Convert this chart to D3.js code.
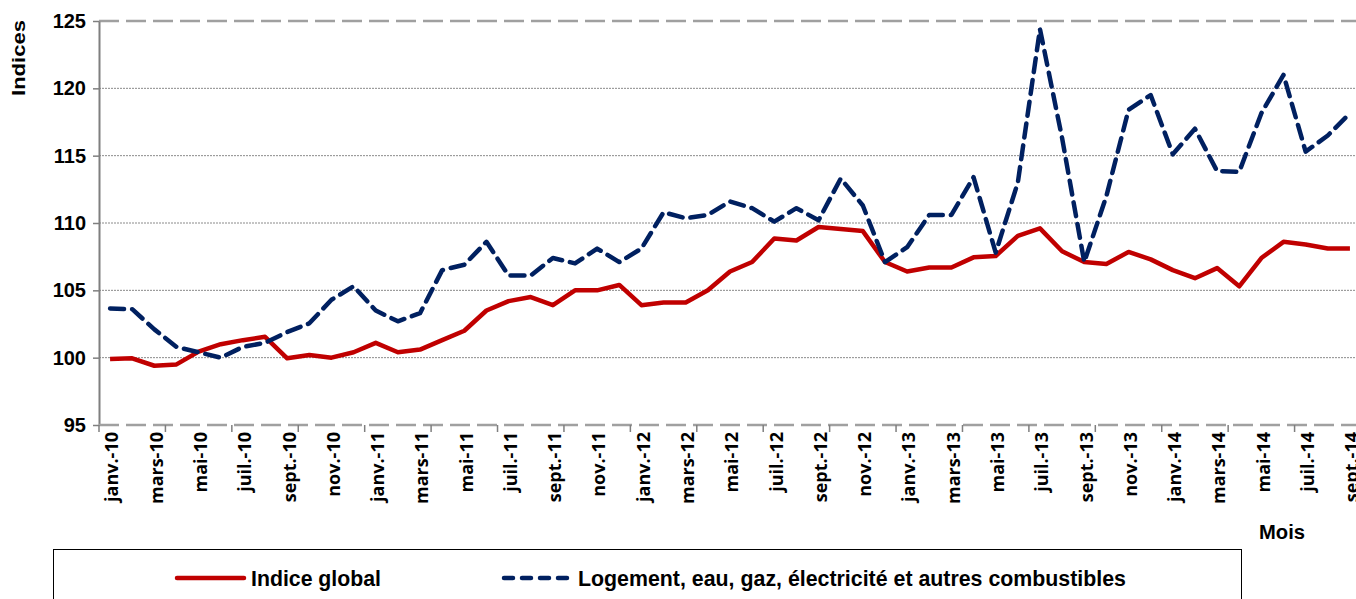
<!DOCTYPE html>
<html>
<head>
<meta charset="utf-8">
<script src="https://cdn.jsdelivr.net/npm/d3@7"></script>
<style>
  body { margin: 0; background: #fff; }
  svg { display: block; }
  .tick-y { font-family: "Liberation Sans", Arial, sans-serif; font-weight: bold; font-size: 20px; }
  .tick-x { font-family: "Open Sans", sans-serif; font-weight: bold; font-size: 18px; }
  .ttl { font-family: "Liberation Sans", Arial, sans-serif; font-weight: bold; }
</style>
</head>
<body>
<svg id="chart" width="1356" height="599"></svg>
<script>
// month names used for the category axis
var monthNames = ["janv.", "févr.", "mars", "avr.", "mai", "juin", "juil.", "août", "sept.", "oct.", "nov.", "déc."];
var months = [];
for (var yr = 10; yr <= 14; yr++) {
    monthNames.forEach(function (m, k) {
        if (yr == 14 && k > 8) return;
        months.push(m + "-" + yr);
    });
}

var yTicks = [95, 100, 105, 110, 115, 120, 125];

// Indice global
var indiceGlobal = [99.9, 99.95, 99.4, 99.5, 100.45, 101.0, 101.3, 101.55, 99.95, 100.2, 100.0,
    100.4, 101.1, 100.4, 100.6, 101.3, 102.0, 103.5, 104.2, 104.5, 103.9,
    105.0, 105.0, 105.4, 103.9, 104.1, 104.1, 105.0, 106.4, 107.1, 108.85,
    108.7, 109.7, 109.55, 109.4, 107.1, 106.4, 106.7, 106.7, 107.45, 107.55,
    109.05, 109.6, 107.9, 107.1, 106.95, 107.85, 107.3, 106.5, 105.9, 106.65,
    105.3, 107.4, 108.6, 108.4, 108.1, 108.1];

// Logement, eau, gaz, electricite et autres combustibles
var logement = [103.65, 103.6, 102.1, 100.8, 100.4, 100.0, 100.8, 101.1, 101.9, 102.55, 104.3,
    105.3, 103.5, 102.7, 103.3, 106.5, 106.9, 108.6, 106.1, 106.1, 107.4,
    107.0, 108.1, 107.1, 108.1, 110.8, 110.35, 110.6, 111.6, 111.1, 110.1,
    111.1, 110.2, 113.3, 111.3, 107.1, 108.2, 110.6, 110.6, 113.4, 107.8,
    113.0, 124.4, 116.3, 107.1, 112.0, 118.4, 119.5, 115.1, 117.0, 113.85,
    113.8, 118.15, 121.0, 115.3, 116.5, 118.15];

var series = [
    { name: "Indice global", values: indiceGlobal, color: "#C00000", dash: null, len: 130 },
    { name: "Logement, eau, gaz, électricité et autres combustibles", values: logement, color: "#002060", dash: "14,8", len: 548 }
];

var svg = d3.select("#chart");
var plotLeft = 99, plotRight = 1361, plotTop = 21, plotBottom = 425;

var x = d3.scaleLinear().domain([-0.5, months.length - 0.5]).range([plotLeft, plotRight]);
var y = d3.scaleLinear().domain([95, 125]).range([plotBottom, plotTop]);

// gridlines
svg.append("g").selectAll("line")
    .data(yTicks.filter(function (d) { return d > 95 && d < 125; }))
    .enter().append("line")
    .attr("x1", plotLeft).attr("x2", plotRight)
    .attr("y1", d => y(d)).attr("y2", d => y(d))
    .attr("stroke", "#8a8a8a").attr("stroke-width", 1)
    .attr("stroke-dasharray", "2,1");

// top line (dashed, thicker)
svg.append("line")
    .attr("x1", plotLeft).attr("x2", plotRight).attr("y1", y(125)).attr("y2", y(125))
    .attr("stroke", "#a0a0a0").attr("stroke-width", 2.5).attr("stroke-dasharray", "20,7");

// y axis
var yAxis = d3.axisLeft(y).tickValues(yTicks).tickSize(6).tickSizeOuter(0).tickFormat(d3.format("d"));
var gy = svg.append("g").attr("transform", "translate(" + plotLeft + ",0)").call(yAxis);
gy.select(".domain").attr("stroke", "#7f7f7f").attr("stroke-width", 2);
gy.selectAll(".tick line").attr("stroke", "#7f7f7f").attr("stroke-width", 1.5);
gy.selectAll(".tick text").attr("class", "tick-y").attr("x", -13).attr("fill", "#000");

// x axis: tick marks every 3 months, labels every 2 months
var tickPos = d3.range(-0.5, months.length, 3);
svg.append("line")
    .attr("x1", plotLeft).attr("x2", plotRight).attr("y1", plotBottom).attr("y2", plotBottom)
    .attr("stroke", "#a0a0a0").attr("stroke-width", 2.5).attr("stroke-dasharray", "20,7");
svg.append("g").selectAll("line")
    .data(tickPos).enter().append("line")
    .attr("x1", d => x(d)).attr("x2", d => x(d))
    .attr("y1", plotBottom).attr("y2", plotBottom + 7)
    .attr("stroke", "#7f7f7f").attr("stroke-width", 1.5);

svg.append("g").selectAll("text")
    .data(months.map(function (m, i) { return { m: m, i: i }; }).filter(d => d.i % 2 == 0))
    .enter().append("text")
    .attr("class", "tick-x")
    .attr("transform", d => "translate(" + (x(d.i) + 2) + "," + (plotBottom + 7) + ") rotate(-90)")
    .attr("text-anchor", "end")
    .attr("dy", "0.35em")
    .text(d => d.m);

// lines
var line = d3.line()
    .x(function (d, i) { return x(i); })
    .y(function (d) { return y(d); });

svg.append("g").selectAll("path")
    .data(series).enter().append("path")
    .attr("d", d => line(d.values))
    .attr("fill", "none")
    .attr("stroke", d => d.color)
    .attr("stroke-width", 4.5)
    .attr("stroke-linejoin", "round")
    .attr("stroke-linecap", d => d.dash ? "round" : "butt")
    .attr("stroke-dasharray", d => d.dash);

// titles
svg.append("text").attr("class", "ttl")
    .attr("transform", "translate(25,58) rotate(-90)")
    .attr("text-anchor", "middle")
    .style("font-size", "19px")
    .attr("textLength", 76).attr("lengthAdjust", "spacingAndGlyphs")
    .text("Indices");

svg.append("text").attr("class", "ttl")
    .attr("x", 1282).attr("y", 539)
    .attr("text-anchor", "middle")
    .style("font-size", "21px")
    .attr("textLength", 46).attr("lengthAdjust", "spacingAndGlyphs")
    .text("Mois");

// legend
var legend = svg.append("g");
legend.append("rect")
    .attr("x", 53.5).attr("y", 549.5).attr("width", 1188).attr("height", 70)
    .attr("fill", "#fff").attr("stroke", "#000").attr("stroke-width", 1);

var legX = [175, 502];
var legItems = legend.selectAll("g.item")
    .data(series).enter().append("g")
    .attr("transform", (d, i) => "translate(" + legX[i] + ",578)");
legItems.append("line")
    .attr("x1", 2).attr("x2", 69)
    .attr("stroke", d => d.color).attr("stroke-width", 4.5)
    .attr("stroke-linecap", "round")
    .attr("stroke-dasharray", d => d.dash ? "9,9" : null);
legItems.append("text").attr("class", "ttl")
    .attr("x", 76).attr("dy", "0.36em")
    .style("font-size", "22px")
    .attr("textLength", d => d.len).attr("lengthAdjust", "spacingAndGlyphs")
    .text(d => d.name);
</script>
</body>
</html>
